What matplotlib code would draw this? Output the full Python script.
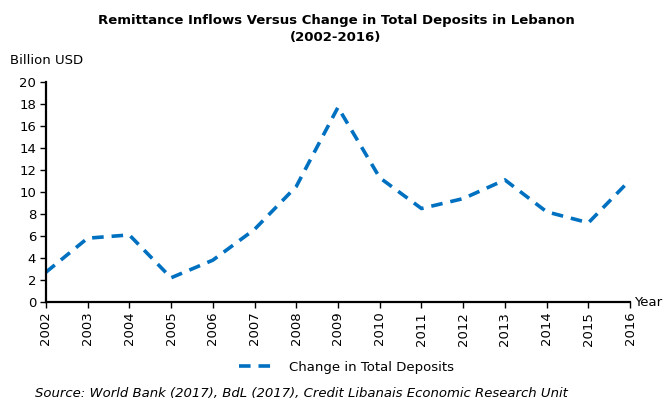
import matplotlib.pyplot as plt

years = [str(y) for y in range(2002, 2017)]
deposits = [2.7, 5.8, 6.1, 2.2, 3.8, 6.6, 10.5, 17.7, 11.3, 8.5, 9.4, 11.1, 8.2, 7.2, 11.1]
yticks = list(range(0, 21, 2))

plt.rcParams['font.family'] = ['DejaVu Sans']

fig = plt.figure(figsize=(6.64, 4.0), dpi=100)
ax = fig.add_axes([0.069, 0.245, 0.880, 0.550])

x = list(range(len(years)))
ax.plot(x, deposits, color='#0070C0', lw=2.6, dashes=(3.2, 2.2),
        label='Change in Total Deposits')

ax.set_xlim(0, len(years) - 1)
ax.set_ylim(0, 20)
ax.set_yticks(yticks)
ax.set_xticks(x)
ax.set_xticklabels(years, rotation=90, fontsize=9.5)
ax.tick_params(axis='y', labelsize=9.5, length=4, width=1, pad=3)
ax.tick_params(axis='x', length=4, width=1, pad=3)

for s in ['top', 'right']:
    ax.spines[s].set_visible(False)
for s in ['left', 'bottom']:
    ax.spines[s].set_linewidth(1.6)

fig.text(0.506, 0.948, 'Remittance Inflows Versus Change in Total Deposits in Lebanon',
         ha='center', va='center', fontsize=9.5, fontweight='bold')
fig.text(0.506, 0.905, '(2002-2016)', ha='center', va='center',
         fontsize=9.5, fontweight='bold')
fig.text(0.015, 0.85, 'Billion USD', ha='left', va='center', fontsize=9.5)
fig.text(0.955, 0.245, 'Year', ha='left', va='center', fontsize=9.5)

h, l = ax.get_legend_handles_labels()
fig.legend(h, l, loc='center', bbox_to_anchor=(0.522, 0.0825), frameon=False,
           fontsize=9.5, handlelength=2.8, handletextpad=1.0)

fig.text(0.052, 0.017, 'Source: World Bank (2017), BdL (2017), Credit Libanais Economic Research Unit',
         ha='left', va='center', fontsize=9.5, style='italic')

fig.savefig('out.png', dpi=100)
